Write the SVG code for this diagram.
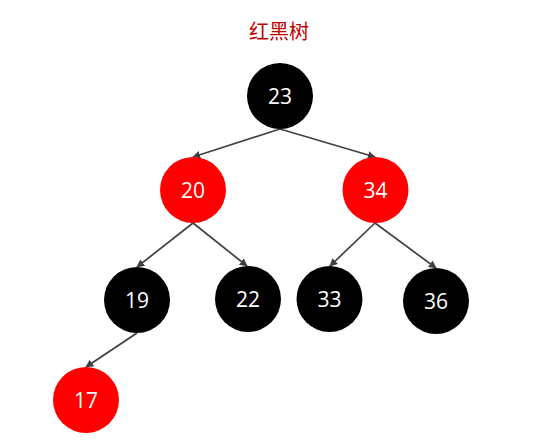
<svg xmlns="http://www.w3.org/2000/svg" width="539" height="444" viewBox="0 0 539 444">
<style>
.red{fill:#FF0000}
.blk{fill:#000000}
.lbl{fill:#FFFFFF;font-family:"Open Sans","Liberation Sans",sans-serif;font-size:21px;text-anchor:middle;dominant-baseline:central}
.edge{stroke:#404040;stroke-width:1.7;fill:none;marker-end:url(#arr)}
.title{fill:#C00000;font-family:"Noto Sans CJK SC",sans-serif;font-size:20px;text-anchor:middle}
</style>
<defs>
<marker id="arr" viewBox="0 0 10 10" refX="9" refY="5" markerWidth="8" markerHeight="8" markerUnits="userSpaceOnUse" orient="auto">
<path d="M0,0 L10,5 L0,10 z" fill="#404040"/>
</marker>
</defs>
<rect width="539" height="444" fill="#FFFFFF"/>
<text class="title" x="279" y="39">红黑树</text>
<g id="connectors">
<line class="edge" x1="280" y1="129" x2="193" y2="157"/>
<line class="edge" x1="280" y1="129" x2="375" y2="157"/>
<line class="edge" x1="193" y1="223" x2="137" y2="267"/>
<line class="edge" x1="193" y1="223" x2="247" y2="266"/>
<line class="edge" x1="375" y1="223" x2="330" y2="266"/>
<line class="edge" x1="375" y1="223" x2="436" y2="268"/>
<line class="edge" x1="137" y1="333" x2="86" y2="367"/>
</g>
<g id="n23"><circle class="blk" cx="280" cy="96" r="33"/><text class="lbl" x="280" y="96">23</text></g>
<g id="n20"><circle class="red" cx="193" cy="190" r="33"/><text class="lbl" x="193" y="190">20</text></g>
<g id="n34"><circle class="red" cx="375.5" cy="190" r="33"/><text class="lbl" x="375.5" y="190">34</text></g>
<g id="n19"><circle class="blk" cx="137" cy="300" r="33"/><text class="lbl" x="137" y="300">19</text></g>
<g id="n22"><circle class="blk" cx="248" cy="299" r="33"/><text class="lbl" x="248" y="299">22</text></g>
<g id="n33"><circle class="blk" cx="329.5" cy="299" r="33"/><text class="lbl" x="329.5" y="299">33</text></g>
<g id="n36"><circle class="blk" cx="436" cy="301" r="33"/><text class="lbl" x="436" y="301">36</text></g>
<g id="n17"><circle class="red" cx="86" cy="400" r="33"/><text class="lbl" x="86" y="400">17</text></g>
</svg>
